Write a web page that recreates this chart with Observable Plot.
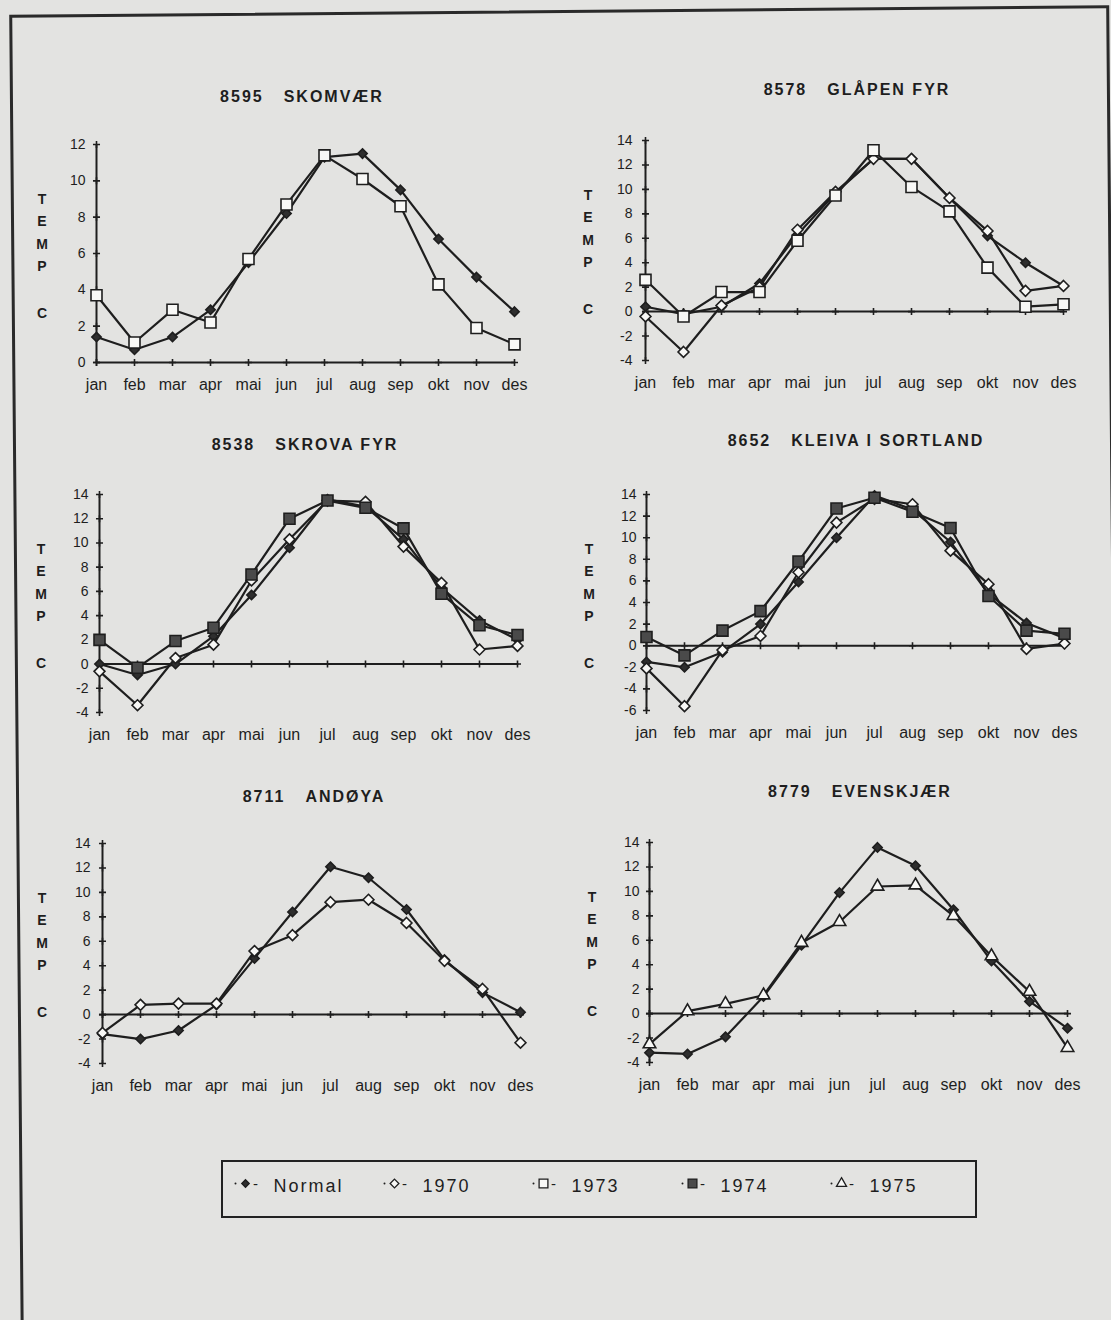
<!DOCTYPE html>
<html><head><meta charset="utf-8">
<script src="https://cdn.jsdelivr.net/npm/d3@7"></script>
<script src="https://cdn.jsdelivr.net/npm/@observablehq/plot@0.6"></script>
<style>
html,body{margin:0;padding:0;background:#e3e3e1;}
#page{position:relative;width:1111px;height:1320px;overflow:hidden;background:#e3e3e1;font-family:"Liberation Sans",Arial,sans-serif;color:#1e1e1e;}
.frame{position:absolute;left:15px;top:10px;width:1100px;height:1330px;border:3px solid #2a2a2a;box-sizing:border-box;transform:rotate(-0.5deg);}
.panel{position:absolute;width:530px;height:290px;}
.title{position:absolute;font-weight:bold;font-size:16px;letter-spacing:2px;white-space:pre;line-height:16px;transform:translateX(-50%);}
.title span.id{margin-right:20px;}
.ylab{position:absolute;font-weight:bold;font-size:14px;line-height:22.5px;text-align:center;width:20px;margin-left:-10px;white-space:pre;}
.legend{position:absolute;left:221px;top:1160px;width:756px;height:58px;border:2px solid #222;box-sizing:border-box;}
</style></head>
<body><div id="page"><div class="frame"></div></div>
<script>
// ---------- data ----------
const months = ["jan","feb","mar","apr","mai","jun","jul","aug","sep","okt","nov","des"];
const seriesNames = ["Normal","1970","1973","1974","1975"];
const stationIds = ["8595","8578","8538","8652","8711","8779"];
const stationNames = ["SKOMVÆR","GLÅPEN FYR","SKROVA FYR","KLEIVA I SORTLAND","ANDØYA","EVENSKJÆR"];

const skomvaerNormal = [1.4, 0.7, 1.4, 2.9, 5.5, 8.2, 11.3, 11.5, 9.5, 6.8, 4.7, 2.8];
const skomvaer1973   = [3.7, 1.1, 2.9, 2.2, 5.7, 8.7, 11.4, 10.1, 8.6, 4.3, 1.9, 1.0];

const glapenNormal = [0.4, -0.2, 0.4, 2.3, 6.3, 9.7, 12.5, 12.5, 9.3, 6.2, 4.0, 2.1];
const glapen1970   = [-0.4, -3.3, 0.5, 2.0, 6.7, 9.8, 12.5, 12.5, 9.3, 6.6, 1.7, 2.1];
const glapen1973   = [2.6, -0.4, 1.6, 1.6, 5.8, 9.5, 13.2, 10.2, 8.2, 3.6, 0.4, 0.6];

const skrovaNormal = [0.0, -0.9, 0.0, 2.3, 5.7, 9.6, 13.6, 13.0, 10.3, 6.3, 3.6, 2.0];
const skrova1970   = [-0.6, -3.4, 0.5, 1.6, 6.9, 10.3, 13.5, 13.4, 9.7, 6.7, 1.2, 1.5];
const skrova1974   = [2.0, -0.3, 1.9, 3.0, 7.4, 12.0, 13.5, 12.9, 11.2, 5.8, 3.2, 2.4];

const kleivaNormal = [-1.5, -2.0, -0.6, 2.0, 5.9, 10.0, 13.9, 12.6, 9.6, 4.8, 2.1, 0.7];
const kleiva1970   = [-2.1, -5.6, -0.4, 0.9, 6.8, 11.4, 13.6, 13.1, 8.8, 5.7, -0.3, 0.2];
const kleiva1974   = [0.8, -0.9, 1.4, 3.2, 7.8, 12.7, 13.7, 12.4, 10.9, 4.6, 1.4, 1.1];

const andoyaNormal = [-1.6, -2.0, -1.3, 0.8, 4.6, 8.4, 12.1, 11.2, 8.6, 4.5, 1.8, 0.2];
const andoya1970   = [-1.5, 0.8, 0.9, 0.9, 5.2, 6.5, 9.2, 9.4, 7.5, 4.4, 2.1, -2.3];

const evenskjaerNormal = [-3.2, -3.3, -1.9, 1.4, 5.6, 9.9, 13.6, 12.1, 8.5, 4.3, 1.0, -1.2];
const evenskjaer1975   = [-2.5, 0.2, 0.8, 1.5, 5.8, 7.5, 10.4, 10.5, 8.0, 4.7, 1.8, -2.8];

const ticks0to12 = [0, 2, 4, 6, 8, 10, 12];
const ticksM4to14 = [-4, -2, 0, 2, 4, 6, 8, 10, 12, 14];
const ticksM6to14 = [-6, -4, -2, 0, 2, 4, 6, 8, 10, 12, 14];

// ---------- styles / layout ----------
const ink = "#1e1e1e";
const seriesStyle = {
  "Normal": {symbol: "diamond2", r: 4.2, fill: "#2e2e2e"},
  "1970":   {symbol: "diamond2", r: 4.9, fill: "#f8f8f6"},
  "1973":   {symbol: "square2",  r: 7,   fill: "#f8f8f6"},
  "1974":   {symbol: "square2",  r: 7,   fill: "#4a4a4a"},
  "1975":   {symbol: "triangle2", r: 6,  fill: "#f8f8f6"}
};

const panels = [
  {i: 0, series: [["Normal", skomvaerNormal], ["1973", skomvaer1973]], ticks: ticks0to12,
   left: 30, top: 120, m: [24, 43, 48, 63], titleX: 302, titleTop: 89, labX: 42},
  {i: 1, series: [["Normal", glapenNormal], ["1970", glapen1970], ["1973", glapen1973]], ticks: ticksM4to14,
   left: 575, top: 120, m: [20, 37, 50, 65], titleX: 857, titleTop: 82, labX: 588},
  {i: 2, series: [["Normal", skrovaNormal], ["1970", skrova1970], ["1974", skrova1974]], ticks: ticksM4to14,
   left: 30, top: 470, m: [24, 40, 48, 66], titleX: 305, titleTop: 437, labX: 41},
  {i: 3, series: [["Normal", kleivaNormal], ["1970", kleiva1970], ["1974", kleiva1974]], ticks: ticksM6to14,
   left: 575, top: 470, m: [24, 39, 50, 69], titleX: 856, titleTop: 433, labX: 589},
  {i: 4, series: [["Normal", andoyaNormal], ["1970", andoya1970]], ticks: ticksM4to14,
   left: 30, top: 820, m: [23, 36, 47, 68], titleX: 314, titleTop: 789, labX: 42},
  {i: 5, series: [["Normal", evenskjaerNormal], ["1975", evenskjaer1975]], ticks: ticksM4to14,
   left: 575, top: 820, m: [22, 36, 48, 72], titleX: 860, titleTop: 784, labX: 592}
];

const page = document.getElementById("page");

function makePanel(p) {
  const rows = [];
  for (const [name, vals] of p.series) vals.forEach((v, k) => rows.push({series: name, month: months[k], temp: v}));
  const yMin = d3.min(p.ticks), yMax = d3.max(p.ticks);
  const marks = [
    Plot.ruleX([months[0]], {y1: yMin, y2: yMax, stroke: ink, strokeWidth: 2}),
    Plot.line([months[0], months[months.length - 1]], {x: d => d, y: () => 0, stroke: ink, strokeWidth: 2}),
    Plot.dot(months, {x: d => d, y: () => 0, symbol: "plus", r: 2.4, stroke: ink, strokeWidth: 1.6}),
    Plot.dot(p.ticks, {x: () => months[0], y: d => d, symbol: "plus", r: 2.4, stroke: ink, strokeWidth: 1.6}),
    Plot.axisY({ticks: p.ticks, tickSize: 0, tickPadding: 8, fontSize: 14, label: null, tickFormat: d => String(d)}),
    Plot.axisX({tickSize: 0, tickPadding: 16, fontSize: 16, label: null}),
    Plot.line(rows, {x: "month", y: "temp", z: "series", stroke: ink, strokeWidth: 2.2})
  ];
  for (const [name] of p.series) {
    const st = seriesStyle[name];
    marks.push(Plot.dot(rows.filter(d => d.series === name), {
      x: "month", y: "temp", symbol: st.symbol, r: st.r, fill: st.fill, stroke: ink, strokeWidth: 1.6
    }));
  }
  const svg = Plot.plot({
    width: 530, height: 290,
    marginTop: p.m[0], marginRight: p.m[1], marginBottom: p.m[2], marginLeft: p.m[3],
    style: {background: "transparent", color: ink, fontFamily: "'Liberation Sans', Arial, sans-serif", overflow: "visible"},
    x: {type: "point", domain: months, padding: 0},
    y: {domain: [yMin, yMax]},
    marks
  });
  const wrap = document.createElement("div");
  wrap.className = "panel";
  wrap.style.left = p.left + "px";
  wrap.style.top = p.top + "px";
  wrap.appendChild(svg);
  page.appendChild(wrap);

  const t = document.createElement("div");
  t.className = "title";
  t.style.left = p.titleX + "px";
  t.style.top = p.titleTop + "px";
  t.innerHTML = `<span class="id">${stationIds[p.i]}</span>${stationNames[p.i]}`;
  page.appendChild(t);

  const plotTop = p.top + p.m[0];
  const lab1 = document.createElement("div");
  lab1.className = "ylab";
  lab1.style.left = p.labX + "px";
  lab1.style.top = (plotTop + 55 - 11.25) + "px";
  lab1.textContent = "T\nE\nM\nP";
  page.appendChild(lab1);
  const lab2 = document.createElement("div");
  lab2.className = "ylab";
  lab2.style.left = p.labX + "px";
  lab2.style.top = (plotTop + 169 - 11.25) + "px";
  lab2.textContent = "C";
  page.appendChild(lab2);
}
panels.forEach(makePanel);

// ---------- legend ----------
const legendWrap = document.createElement("div");
legendWrap.className = "legend";
const legendMarks = [
  Plot.dot(seriesNames, {x: d => d, frameAnchor: "middle", dy: -6, dx: -10, r: 1, fill: ink, stroke: null}),
  Plot.text(seriesNames, {x: d => d, frameAnchor: "middle", dy: -5, dx: 11, text: () => "-", fontSize: 15, fill: ink})
];
for (const name of seriesNames) {
  const st = seriesStyle[name];
  legendMarks.push(Plot.dot([name], {x: d => d, frameAnchor: "middle", dy: -6,
    symbol: st.symbol, r: st.r * 0.8, fill: st.fill, stroke: ink, strokeWidth: 1.3}));
}
legendMarks.push(Plot.text(seriesNames, {x: d => d, frameAnchor: "middle", dy: -3, dx: 28, text: d => d,
  textAnchor: "start", fontSize: 18, fill: ink}));
const legendSvg = Plot.plot({
  width: 752, height: 54, margin: 0,
  style: {background: "transparent", color: ink, fontFamily: "'Liberation Sans', Arial, sans-serif", overflow: "visible", letterSpacing: "2px"},
  x: {type: "point", domain: seriesNames, range: [21, 618], padding: 0, axis: null},
  marks: legendMarks
});
legendWrap.appendChild(legendSvg);
page.appendChild(legendWrap);
</script>
</body></html>
